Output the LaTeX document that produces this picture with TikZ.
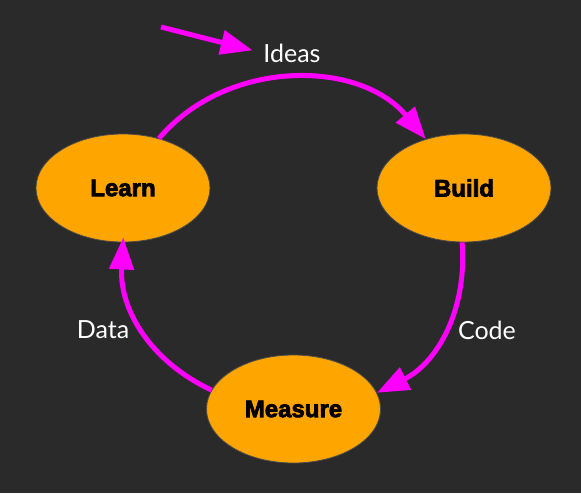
\documentclass[tikz,border=0pt]{standalone}
\usepackage{fontspec}
\setmainfont{Lato}
\newfontfamily\heavyfont[FakeBold=3]{Liberation Sans Bold}
\usepackage{tikz}
\usetikzlibrary{arrows.meta, shapes.geometric, positioning}
\definecolor{bgcol}{HTML}{2A2A2A}
\definecolor{orangefill}{HTML}{FFA500}
\definecolor{pinkline}{HTML}{FF00FF}
\tikzset{
    ellipsenode/.style = {draw=gray!60!black, line width=0.8pt, fill=orangefill, ellipse, inner sep=0em, 
      minimum width=174pt, minimum height=108pt, node distance=0em, font=\heavyfont\fontsize{24}{28}\selectfont},
    textnode/.style  = {draw=none, fill=none, rectangle, inner sep=0em, node distance=0em, 
      text=white, font=\fontsize{25}{30}\selectfont},
    connect/.style = {pinkline, line width=5pt, -{Triangle[length=32pt, width=24pt]}}
}
\begin{document}
\begin{tikzpicture}[x=1pt, y=-1pt]
    \fill[bgcol] (0,0) rectangle (581,493);

    \node [name=learn, ellipsenode] at (123,188) {Learn}; 
    \node [name=build, ellipsenode, right of=learn, xshift=341pt] {Build}; 
    \node [name=measure, ellipsenode, below of=learn, xshift=170.5pt, yshift=-221pt] {Measure}; 

    \node [name=ideas, textnode, above of=learn, xshift=169pt, yshift=135pt] {Ideas}; 
    \node [name=code, textnode, below of=build, xshift=23pt, yshift=-142pt] {Code}; 
    \node [name=data, textnode, below of=learn, xshift=-20pt, yshift=-142pt] {Data}; 

    \coordinate (src) at (161,27);
    \draw (src) edge[connect, shorten >=11pt] (ideas.west);

    \draw (learn.54) edge[connect, bend left=50] (build.128);
    \draw (build.-92) edge[connect, bend left=34] (measure.11);
    \draw (measure.167) edge[connect, bend left=34, shorten >=-5pt] (learn.south);
\end{tikzpicture}
\end{document}
